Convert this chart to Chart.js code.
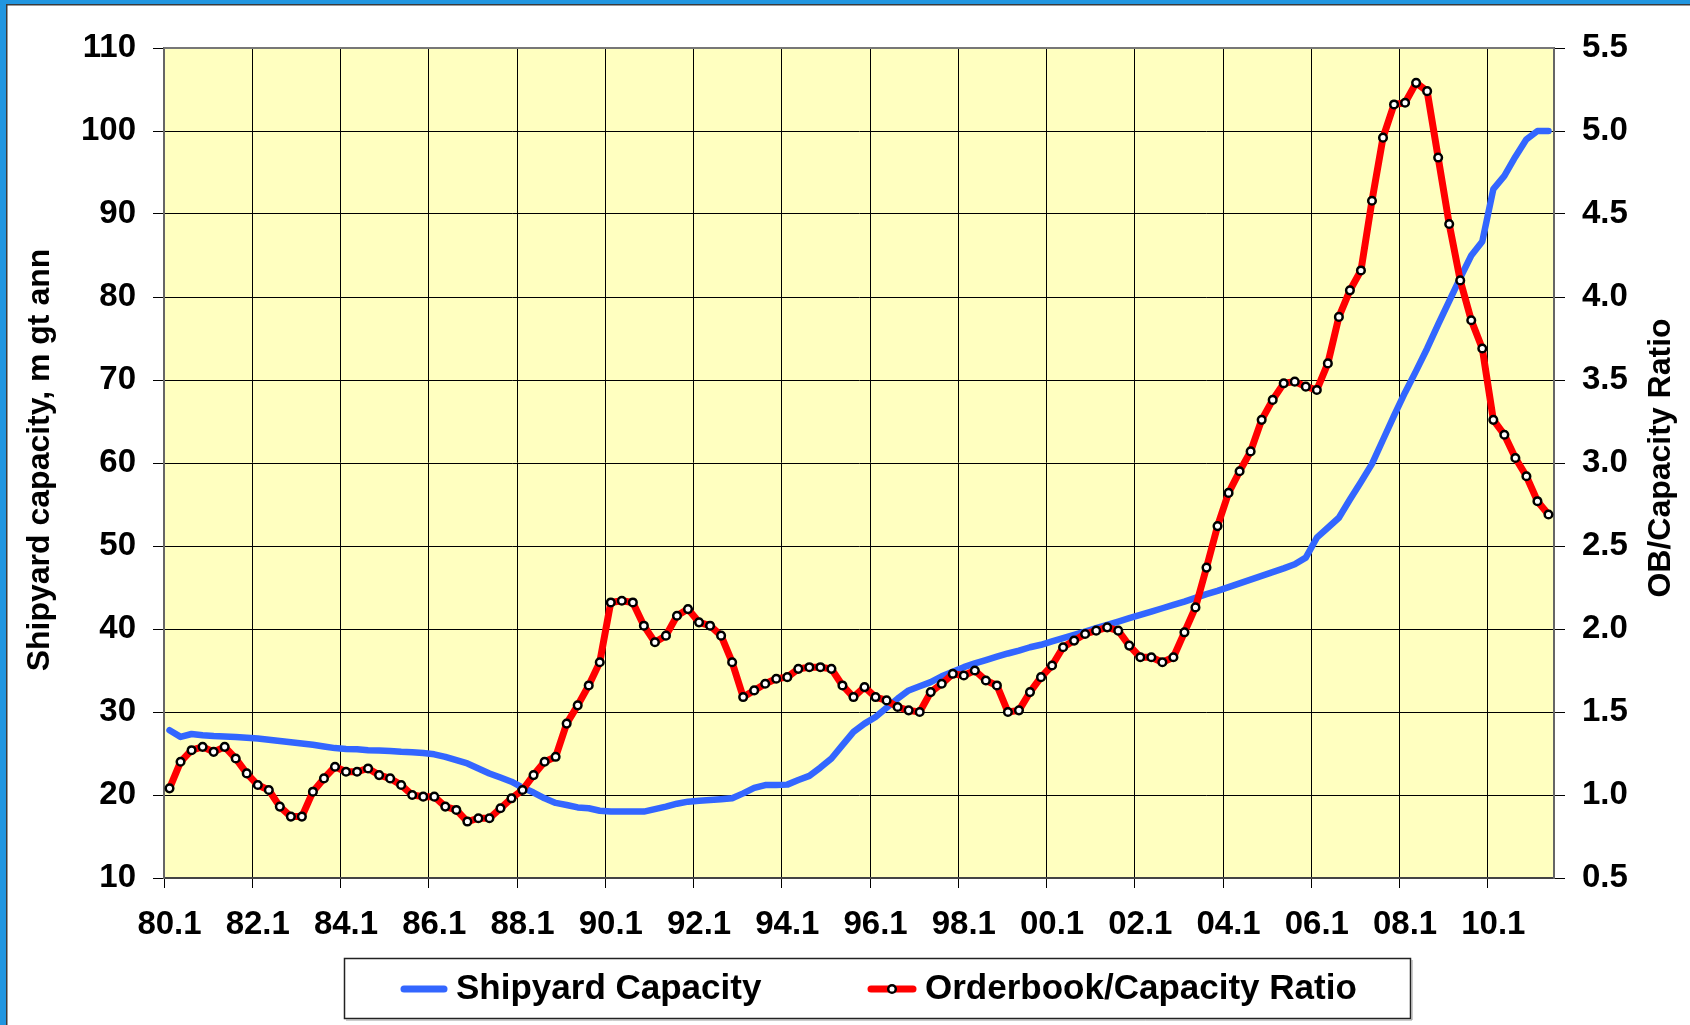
<!DOCTYPE html>
<html>
<head>
<meta charset="utf-8">
<title>Shipyard capacity and orderbook/capacity ratio</title>
<script src="https://cdn.jsdelivr.net/npm/chart.js@4.4.1/dist/chart.umd.min.js"></script>
<style>
  html, body { margin: 0; padding: 0; background: #fff; overflow: hidden; }
  canvas { display: block; }
</style>
</head>
<body>
<canvas id="c" width="1690" height="1025" style="width:1690px;height:1025px"></canvas>
<script>
// ---------- DATA ----------
const years = [1980,1981,1982,1983,1984,1985,1986,1987,1988,1989,1990,1991,1992,1993,1994,1995,
               1996,1997,1998,1999,2000,2001,2002,2003,2004,2005,2006,2007,2008,2009,2010,2011];
const quarters = [1, 2, 3, 4];
const categories = [];
for (const y of years) for (const q of quarters) {
  if (categories.length < 126) categories.push(String(y % 100).padStart(2, '0') + '.' + q);
}

// Shipyard capacity, m gt per annum (left axis)
const capacity = [
  27.8, 27.0, 27.35, 27.2, 27.1, 27.05, 27.0, 26.9, 26.8, 26.65,
  26.5, 26.35, 26.2, 26.05, 25.85, 25.65, 25.55, 25.5, 25.4, 25.35,
  25.3, 25.2, 25.15, 25.05, 24.9, 24.6, 24.2, 23.8, 23.2, 22.6,
  22.1, 21.6, 20.9, 20.3, 19.6, 19.05, 18.8, 18.5, 18.4, 18.1,
  18.0, 18.0, 18.0, 18.0, 18.3, 18.6, 18.95, 19.2, 19.3, 19.4,
  19.5, 19.6, 20.2, 20.85, 21.2, 21.2, 21.25, 21.8, 22.3, 23.3,
  24.4, 26.0, 27.6, 28.6, 29.4, 30.5, 31.6, 32.6, 33.1, 33.6,
  34.3, 34.85, 35.4, 35.85, 36.25, 36.66, 37.05, 37.4, 37.8, 38.1,
  38.5, 38.9, 39.3, 39.7, 40.1, 40.5, 40.9, 41.3, 41.7, 42.1,
  42.5, 42.9, 43.3, 43.75, 44.2, 44.6, 45.05, 45.5, 45.95, 46.4,
  46.85, 47.3, 47.8, 48.6, 51.0, 52.2, 53.4, 55.6, 57.7, 59.9,
  62.8, 65.7, 68.5, 71.1, 73.8, 76.7, 79.5, 82.3, 85.0, 86.7,
  93.0, 94.6, 96.9, 99.0, 100, 100
];

// Orderbook / capacity ratio (right axis)
const ratio = [
  1.04, 1.20, 1.27, 1.29, 1.26, 1.29, 1.22, 1.13, 1.06, 1.03,
  0.93, 0.87, 0.87, 1.02, 1.10, 1.17, 1.14, 1.14, 1.16, 1.12,
  1.10, 1.06, 1.00, 0.99, 0.99, 0.93, 0.91, 0.84, 0.86, 0.86,
  0.92, 0.98, 1.03, 1.12, 1.20, 1.23, 1.43, 1.54, 1.66, 1.80,
  2.16, 2.17, 2.16, 2.02, 1.92, 1.96, 2.08, 2.12, 2.04, 2.02,
  1.96, 1.80, 1.59, 1.63, 1.67, 1.70, 1.71, 1.76, 1.77, 1.77,
  1.76, 1.66, 1.59, 1.65, 1.59, 1.57, 1.53, 1.51, 1.50, 1.62,
  1.67, 1.73, 1.72, 1.75, 1.69, 1.66, 1.50, 1.51, 1.62, 1.71,
  1.78, 1.89, 1.93, 1.97, 1.99, 2.01, 1.99, 1.90, 1.83, 1.83,
  1.80, 1.83, 1.98, 2.13, 2.37, 2.62, 2.82, 2.95, 3.07, 3.26,
  3.38, 3.48, 3.49, 3.46, 3.44, 3.60, 3.88, 4.04, 4.16, 4.58,
  4.96, 5.16, 5.17, 5.29, 5.24, 4.84, 4.44, 4.10, 3.86, 3.69,
  3.26, 3.17, 3.03, 2.92, 2.77, 2.69
];

const seriesNames = ['Shipyard Capacity', 'Orderbook/Capacity Ratio'];
const leftTitle = 'Shipyard capacity, m gt ann';
const rightTitle = 'OB/Capacity Ratio';

// ---------- STYLE ----------
const FONT = 'Liberation Sans, Arial, Helvetica, sans-serif';
const BLUE = '#3366FF';
const RED = '#FF0000';
const PLOT_BG = '#FFFFC0';

const decor = {
  id: 'decor',
  beforeDraw(chart) {
    const ctx = chart.ctx, a = chart.chartArea;
    ctx.save();
    ctx.fillStyle = '#ffffff';
    ctx.fillRect(0, 0, chart.width, chart.height);
    // outer blue frame (top and left)
    ctx.fillStyle = '#2196E0';
    ctx.fillRect(0, 0, chart.width, 4);
    ctx.fillRect(0, 0, 6, chart.height);
    ctx.fillStyle = '#3a3a3a';
    ctx.fillRect(6, 4, chart.width - 6, 1.5);
    ctx.fillRect(6, 4, 1.5, chart.height - 4);
    // plot background
    ctx.fillStyle = PLOT_BG;
    ctx.fillRect(a.left, a.top, a.right - a.left, a.bottom - a.top);
    ctx.restore();
  },
  beforeDatasetsDraw(chart) {
    const ctx = chart.ctx, a = chart.chartArea;
    ctx.save();
    ctx.strokeStyle = '#777';
    ctx.lineWidth = 2;
    ctx.beginPath();
    ctx.moveTo(a.left, a.top);
    ctx.lineTo(a.right, a.top);
    ctx.stroke();
    ctx.restore();
  },
  afterDraw(chart) {
    const ctx = chart.ctx;
    ctx.save();
    // axis titles
    ctx.fillStyle = '#000';
    ctx.font = 'bold 32px ' + FONT;
    ctx.textAlign = 'center';
    ctx.textBaseline = 'middle';
    ctx.save();
    ctx.translate(40, 460);
    ctx.rotate(-Math.PI / 2);
    ctx.fillText(leftTitle, 0, 0);
    ctx.restore();
    ctx.save();
    ctx.translate(1661, 458);
    ctx.rotate(-Math.PI / 2);
    ctx.fillText(rightTitle, 0, 0);
    ctx.restore();

    // legend box
    const bx = 344, by = 958, bw = 1066, bh = 60, cy = by + bh / 2 + 1;
    ctx.strokeStyle = '#222';
    ctx.lineWidth = 1.5;
    ctx.strokeRect(bx + 0.5, by + 0.5, bw, bh);
    ctx.strokeStyle = '#999';
    ctx.lineWidth = 1;
    ctx.beginPath();
    ctx.moveTo(bx + 2, by + bh + 2); ctx.lineTo(bx + bw + 2, by + bh + 2); ctx.lineTo(bx + bw + 2, by + 2);
    ctx.stroke();

    ctx.lineCap = 'round';
    ctx.lineWidth = 7;
    ctx.strokeStyle = BLUE;
    ctx.beginPath(); ctx.moveTo(404, cy); ctx.lineTo(444, cy); ctx.stroke();
    ctx.strokeStyle = RED;
    ctx.beginPath(); ctx.moveTo(871, cy); ctx.lineTo(913, cy); ctx.stroke();
    ctx.lineWidth = 2.5;
    ctx.fillStyle = '#fff';
    ctx.strokeStyle = '#000';
    ctx.beginPath(); ctx.arc(892, cy, 3.8, 0, Math.PI * 2); ctx.fill(); ctx.stroke();

    ctx.fillStyle = '#000';
    ctx.font = 'bold 35px ' + FONT;
    ctx.textAlign = 'left';
    ctx.textBaseline = 'middle';
    ctx.fillText(seriesNames[0], 456, cy);
    ctx.fillText(seriesNames[1], 925, cy);
    ctx.restore();
  }
};

const tickFont = { family: FONT, size: 33, weight: 'bold' };

new Chart(document.getElementById('c'), {
  type: 'line',
  data: {
    labels: categories,
    datasets: [
      {
        label: seriesNames[0],
        data: capacity,
        yAxisID: 'y',
        borderColor: BLUE,
        backgroundColor: BLUE,
        borderWidth: 6.5,
        pointRadius: 0,
        tension: 0,
        borderJoinStyle: 'round',
        borderCapStyle: 'round',
        order: 2
      },
      {
        label: seriesNames[1],
        data: ratio,
        yAxisID: 'y1',
        borderColor: RED,
        backgroundColor: RED,
        borderWidth: 7,
        pointRadius: 3.8,
        pointBorderWidth: 2.5,
        pointBackgroundColor: '#ffffff',
        pointBorderColor: '#000000',
        tension: 0,
        borderJoinStyle: 'round',
        borderCapStyle: 'round',
        order: 1
      }
    ]
  },
  options: {
    responsive: false,
    animation: false,
    devicePixelRatio: 1,
    layout: { padding: { top: 48, left: 0, right: 0, bottom: 0 } },
    plugins: {
      legend: { display: false },
      tooltip: { enabled: false },
      title: { display: false }
    },
    scales: {
      x: {
        type: 'category',
        offset: true,
        grid: {
          offset: true,
          color: (c) => (c.index !== undefined && c.index % 8 === 0) ? '#000' : 'rgba(0,0,0,0)',
          lineWidth: 1,
          tickLength: 10,
          drawOnChartArea: true
        },
        border: { color: '#444', width: 2 },
        ticks: {
          autoSkip: false,
          maxRotation: 0,
          minRotation: 0,
          padding: 17,
          color: '#000',
          font: tickFont,
          callback: (v, i) => (i % 8 === 0 ? categories[i] : '')
        },
        afterFit: (s) => { s.height = 147; }
      },
      y: {
        position: 'left',
        min: 10,
        max: 110,
        ticks: { stepSize: 10, padding: 17, color: '#000', font: tickFont },
        grid: { color: '#000', lineWidth: 1, tickLength: 11 },
        border: { color: '#666', width: 2 },
        afterFit: (s) => { s.width = 164; }
      },
      y1: {
        position: 'right',
        min: 0.5,
        max: 5.5,
        ticks: { stepSize: 0.5, padding: 17, color: '#000', font: tickFont,
                 callback: (v) => Number(v).toFixed(1) },
        grid: { drawOnChartArea: false, color: '#000', lineWidth: 1, tickLength: 11 },
        border: { color: '#666', width: 2 },
        afterFit: (s) => { s.width = 136; }
      }
    }
  },
  plugins: [decor]
});
</script>
</body>
</html>
